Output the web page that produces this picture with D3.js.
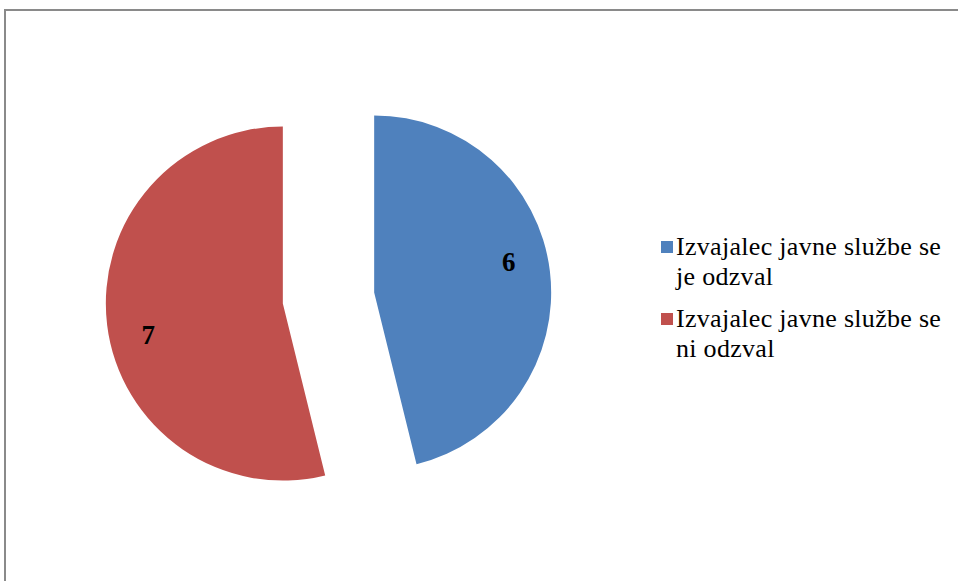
<!DOCTYPE html>
<html>
<head>
<meta charset="utf-8">
<script src="https://cdn.jsdelivr.net/npm/d3@7"></script>
<style>
  body { margin: 0; background: #fff; }
  svg { display: block; }
</style>
</head>
<body>
<svg></svg>
<script>
// chart data
const categories = ["Izvajalec javne službe se je odzval", "Izvajalec javne službe se ni odzval"];
const legendLines = [["Izvajalec javne službe se", "je odzval"], ["Izvajalec javne službe se", "ni odzval"]];
const values = [6, 7];
const colors = ["#4F81BD", "#C0504D"];

const width = 958;
const height = 581;
const cx = 328.5, cy = 298;
const radius = 177;
const explode = 46;
const font = '"Liberation Serif"';

const svg = d3.select("svg")
  .attr("width", width)
  .attr("height", height);

// chart area border
svg.append("rect")
  .attr("x", 5)
  .attr("y", 10)
  .attr("width", width + 10)
  .attr("height", height + 10)
  .attr("fill", "none")
  .attr("stroke", "#8a8a8a")
  .attr("stroke-width", 2);

const pie = d3.pie().sort(null).value(d => d)(values);
const arc = d3.arc().innerRadius(0).outerRadius(radius);

const g = svg.append("g").attr("transform", `translate(${cx},${cy})`);

const slices = g.selectAll(".slice")
  .data(pie)
  .enter()
  .append("g")
  .attr("class", "slice")
  .attr("transform", d => {
    const a = (d.startAngle + d.endAngle) / 2;
    return `translate(${explode * Math.sin(a)},${-explode * Math.cos(a)})`;
  });

slices.append("path")
  .attr("d", arc)
  .attr("fill", (d, i) => colors[i]);

// data labels, a bit before the slice bisector
slices.append("text")
  .attr("transform", d => {
    const a = (d.startAngle + d.endAngle) / 2 - 6 * Math.PI / 180;
    const r = radius * 0.78;
    return `translate(${r * Math.sin(a)},${-r * Math.cos(a)})`;
  })
  .attr("text-anchor", "middle")
  .attr("dy", "0.35em")
  .style("font-family", font)
  .style("font-size", "27px")
  .style("font-weight", "bold")
  .text(d => d.data);

// legend, one text element per line
const legend = svg.append("g").attr("transform", "translate(661,241)");
const items = legend.selectAll(".item")
  .data(categories)
  .enter()
  .append("g")
  .attr("class", "item")
  .attr("transform", (d, i) => `translate(0,${i * 72})`);

items.append("rect")
  .attr("width", 12)
  .attr("height", 12)
  .attr("fill", (d, i) => colors[i]);

items.selectAll("text")
  .data((d, i) => legendLines[i])
  .enter()
  .append("text")
  .attr("x", 15)
  .attr("y", (d, j) => 14 + j * 30)
  .style("font-family", font)
  .style("font-size", "26px")
  .style("letter-spacing", "0.3px")
  .attr("fill", "#000")
  .text(d => d);
</script>
</body>
</html>
